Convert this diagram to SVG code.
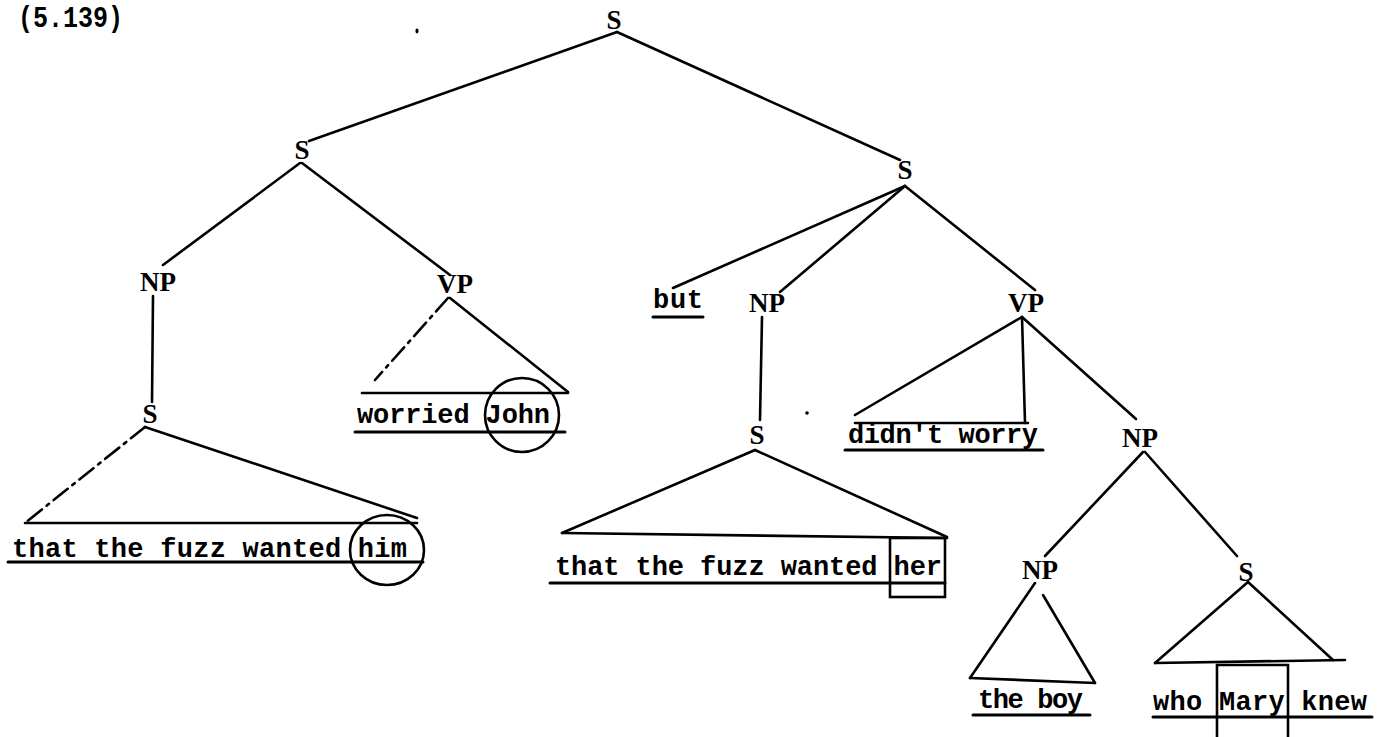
<svg xmlns="http://www.w3.org/2000/svg" width="1384" height="737" viewBox="0 0 1384 737">
<style>
.lbl{font-family:"Liberation Serif","DejaVu Serif",serif;font-weight:bold;font-size:27px;fill:#000;text-anchor:middle}
.txt{font-family:"Liberation Mono","DejaVu Sans Mono",monospace;font-weight:bold;font-size:27px;fill:#000}
.ttl{font-family:"Liberation Mono","DejaVu Sans Mono",monospace;font-weight:bold;font-size:30px;fill:#000}
line,path{stroke:#000;stroke-width:2.6;fill:none;stroke-linecap:round}
.dash{stroke-dasharray:18 6 3 6}
.ul{stroke-width:3}
.ring{stroke:#000;stroke-width:2.6;fill:none}
</style>
<rect width="1384" height="737" fill="#fff"/>
<text class="ttl" x="18" y="27" textLength="105" lengthAdjust="spacingAndGlyphs">(5.139)</text>
<ellipse cx="417" cy="31" rx="1.6" ry="2.4" fill="#000"/>
<ellipse cx="807" cy="413" rx="1.8" ry="1.8" fill="#000"/>

<g id="edges">
<line x1="617" y1="32" x2="309" y2="141"/>
<line x1="617" y1="32" x2="900" y2="160"/>
<line x1="300" y1="163" x2="163" y2="265"/>
<line x1="302" y1="163" x2="450" y2="275"/>
<line x1="153" y1="296" x2="152" y2="402"/>
<line x1="905" y1="186" x2="673" y2="288"/>
<line x1="905" y1="186" x2="780" y2="292"/>
<line x1="905" y1="186" x2="1035" y2="290"/>
<line x1="762" y1="317" x2="760" y2="420"/>
<line x1="1022" y1="317" x2="1136" y2="419"/>
<line x1="1143" y1="452" x2="1045" y2="556"/>
<line x1="1145" y1="452" x2="1237" y2="556"/>
</g>

<g id="node-S-root"><text class="lbl" x="614" y="29">S</text></g>
<g id="node-S-left"><text class="lbl" x="302" y="159">S</text></g>
<g id="node-S-right"><text class="lbl" x="905" y="179">S</text></g>
<g id="node-NP-left"><text class="lbl" x="158" y="291">NP</text></g>
<g id="node-VP-left"><text class="lbl" x="455" y="293">VP</text></g>
<g id="node-NP-right"><text class="lbl" x="767" y="312">NP</text></g>
<g id="node-VP-right"><text class="lbl" x="1026" y="312">VP</text></g>
<g id="node-S-lowleft"><text class="lbl" x="150" y="423">S</text></g>
<g id="node-S-mid"><text class="lbl" x="757" y="444">S</text></g>
<g id="node-NP-obj"><text class="lbl" x="1140" y="447">NP</text></g>
<g id="node-NP-boy"><text class="lbl" x="1040" y="579">NP</text></g>
<g id="node-S-rel"><text class="lbl" x="1246" y="581">S</text></g>

<g id="term-him">
<line class="dash" x1="145" y1="427" x2="25" y2="523"/>
<line x1="145" y1="427" x2="417" y2="518"/>
<line x1="25" y1="523" x2="417" y2="523"/>
<text class="txt" x="12" y="557" textLength="395" lengthAdjust="spacing">that the fuzz wanted him</text>
<line class="ul" x1="8" y1="562" x2="423" y2="562"/>
<ellipse class="ring" cx="387" cy="550" rx="37" ry="35"/>
</g>

<g id="term-john">
<line class="dash" x1="448" y1="298" x2="375" y2="380"/>
<line x1="450" y1="298" x2="568" y2="392"/>
<line x1="362" y1="393" x2="568" y2="393"/>
<text class="txt" x="357" y="423" textLength="193" lengthAdjust="spacing">worried John</text>
<line class="ul" x1="355" y1="432" x2="565" y2="432"/>
<ellipse class="ring" cx="522" cy="415" rx="37" ry="37"/>
</g>

<g id="term-but">
<text class="txt" x="653" y="308" textLength="50" lengthAdjust="spacing">but</text>
<line class="ul" x1="653" y1="317" x2="703" y2="317"/>
</g>

<g id="term-her">
<line x1="755" y1="450" x2="562" y2="533"/>
<line x1="755" y1="450" x2="947" y2="537"/>
<line x1="562" y1="533" x2="947" y2="538"/>
<text class="txt" x="555" y="575" textLength="387" lengthAdjust="spacing">that the fuzz wanted her</text>
<line class="ul" x1="550" y1="583" x2="945" y2="583"/>
<rect x="890" y="538" width="55" height="59" fill="none" stroke="#000" stroke-width="2.6"/>
</g>

<g id="term-didnt">
<line x1="1022" y1="317" x2="855" y2="415"/>
<line x1="1022" y1="317" x2="1025" y2="423"/>
<line x1="855" y1="423" x2="1028" y2="423"/>
<text class="txt" x="848" y="443" textLength="190" lengthAdjust="spacing">didn't worry</text>
<line class="ul" x1="845" y1="450" x2="1043" y2="450"/>
</g>

<g id="term-boy">
<line x1="1035" y1="583" x2="970" y2="678"/>
<line x1="1043" y1="595" x2="1095" y2="683"/>
<line x1="970" y1="678" x2="1095" y2="683"/>
<text class="txt" x="978" y="708" textLength="105" lengthAdjust="spacing">the boy</text>
<line class="ul" x1="973" y1="715" x2="1090" y2="715"/>
</g>

<g id="term-mary">
<line x1="1248" y1="582" x2="1155" y2="663"/>
<line x1="1248" y1="582" x2="1333" y2="660"/>
<line x1="1155" y1="663" x2="1345" y2="660"/>
<text class="txt" x="1153" y="710" textLength="214" lengthAdjust="spacing">who Mary knew</text>
<line class="ul" x1="1153" y1="717" x2="1372" y2="717"/>
<line x1="1217" y1="665" x2="1288" y2="665" stroke-width="4.5"/>
<line x1="1217" y1="665" x2="1217" y2="737"/>
<line x1="1288" y1="665" x2="1288" y2="737"/>
</g>
</svg>
